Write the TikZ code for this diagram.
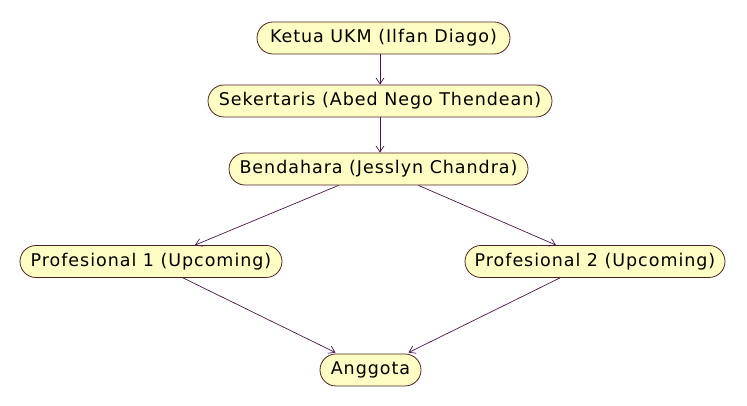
\documentclass[tikz,border=0pt]{standalone}
\usepackage{fontspec}
\setmainfont{DejaVu Sans}[LetterSpace=5.5]
\usetikzlibrary{arrows.meta}
\definecolor{nodefill}{RGB}{254,254,196}
\definecolor{nodeline}{RGB}{80,35,35}
\definecolor{arrowline}{RGB}{75,20,75}
\begin{document}
\begin{tikzpicture}[x=1pt,y=1pt,
  unit/.style={draw=nodeline, fill=nodefill, line width=0.8pt, rounded corners=16pt,
    minimum height=32pt, inner sep=0pt, font=\fontsize{17.5}{20}\selectfont},
  link/.style={draw=arrowline, line width=0.7pt, -{Straight Barb[length=6pt,width=8pt]}}]
\useasboundingbox (0,0) rectangle (747,406);
\node[unit, minimum width=253pt] (n1) at (383.5,368) {Ketua UKM (Ilfan Diago)};
\node[unit, minimum width=344pt] (n2) at (380,305) {Sekertaris (Abed Nego Thendean)};
\node[unit, minimum width=299pt] (n3) at (378.5,237) {Bendahara (Jesslyn Chandra)};
\node[unit, minimum width=262pt] (n4) at (151,144.5) {Profesional 1 (Upcoming)};
\node[unit, minimum width=260pt] (n5) at (595,144.5) {Profesional 2 (Upcoming)};
\node[unit, minimum width=101pt] (n6) at (370.5,36) {Anggota};
\draw[link] ([xshift=-3.5pt]n1.south) -- ([xshift=0pt]n2.north);
\draw[link] (n2.south) -- ([xshift=1.5pt]n3.north);
\draw[link] ([xshift=-40pt]n3.south) -- ([xshift=44pt]n4.north);
\draw[link] ([xshift=40pt]n3.south) -- ([xshift=-39pt]n5.north);
\draw[link] ([xshift=32pt]n4.south) -- ([xshift=-35pt,yshift=1pt]n6.north);
\draw[link] ([xshift=-35pt]n5.south) -- ([xshift=38pt,yshift=1pt]n6.north);
\end{tikzpicture}
\end{document}
